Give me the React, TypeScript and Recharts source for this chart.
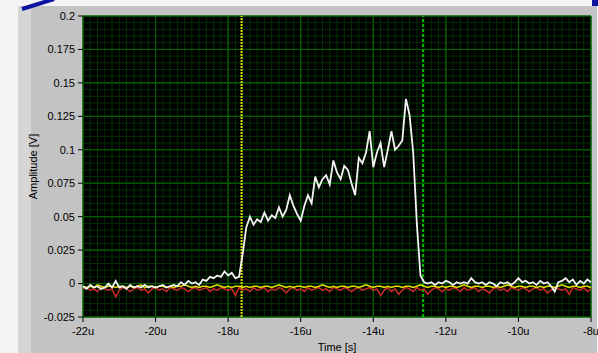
import { LineChart, Line, XAxis, YAxis, CartesianGrid, ReferenceLine } from 'recharts';

// sample grid of the acquisition (time in µs)
const T0 = -22;
const DT = 0.1;

const X_TICKS = [-22, -20, -18, -16, -14, -12, -10, -8];
const Y_TICKS = [-0.025, 0, 0.025, 0.05, 0.075, 0.1, 0.125, 0.15, 0.175, 0.2];

// channel 0 – detector signal
const WHITE = [
  -0.002, -0.004, -0.001, -0.003, -0.002, -0.004, -0.003, 0.0, -0.003, 0.002,
  -0.003, -0.002, -0.004, -0.001, -0.003, -0.002, -0.003, -0.001, -0.003, -0.002,
  -0.003, -0.002, -0.001, -0.003, -0.002, -0.001, -0.002, 0.001, -0.001, 0.002,
  0.0, 0.001, -0.001,
  0.003, 0.002, 0.005, 0.004, 0.006, 0.005, 0.009, 0.006, 0.008, 0.004, 0.005, 0.022, 0.042,
  0.05, 0.044, 0.048, 0.046, 0.053, 0.047, 0.051, 0.049, 0.057, 0.05,
  0.055, 0.066, 0.058, 0.052, 0.047, 0.058, 0.066, 0.06, 0.08, 0.072,
  0.078, 0.081, 0.074, 0.092, 0.083, 0.078, 0.088, 0.085, 0.075, 0.066,
  0.094, 0.09, 0.098, 0.114, 0.087, 0.098, 0.105, 0.087, 0.1, 0.114,
  0.1, 0.103, 0.107, 0.138, 0.126, 0.098, 0.045, 0.006, 0.001,
  0.0, 0.001, -0.001, 0.001, 0.0, 0.002, 0.001, -0.001, 0.001, 0.0,
  0.001, 0.0, 0.004, 0.001, 0.0, 0.001, -0.001, 0.001, 0.0, -0.002,
  0.001, 0.0, 0.001, -0.001, 0.001, 0.004, 0.001, 0.002, 0.0, 0.001,
  -0.001, 0.002, 0.0, 0.001, -0.002, -0.006, 0.001, 0.002, 0.004, 0.001,
  0.003, -0.001, 0.002, 0.0, 0.003, 0.001,
];

// channel 1 – reference
const RED = [
  -0.004, -0.003, -0.005, -0.004, -0.006, -0.003, -0.004, -0.005, -0.004, -0.01,
  -0.005, -0.003, -0.004, -0.006, -0.004, -0.003, -0.005, -0.004, -0.007, -0.004,
  -0.003, -0.005, -0.004, -0.006, -0.003, -0.004, -0.005, -0.003, -0.004, -0.006,
  -0.004, -0.003, -0.005, -0.004, -0.003, -0.006, -0.004, -0.005, -0.003, -0.004,
  -0.005, -0.004, -0.009, -0.003, -0.005, -0.004, -0.006, -0.003, -0.005, -0.004,
  -0.003, -0.006, -0.004, -0.005, -0.003, -0.004, -0.007, -0.004, -0.003, -0.005,
  -0.004, -0.006, -0.003, -0.005, -0.004, -0.003, -0.005, -0.004, -0.006, -0.003,
  -0.004, -0.005, -0.003, -0.004, -0.006, -0.004, -0.003, -0.005, -0.004, -0.003,
  -0.005, -0.004, -0.009, -0.005, -0.003, -0.006, -0.004, -0.008, -0.005, -0.003,
  -0.004, -0.006, -0.003, -0.005, -0.004, -0.008, -0.005, -0.003, -0.004, -0.006,
  -0.004, -0.005, -0.003, -0.004, -0.006, -0.003, -0.005, -0.004, -0.003, -0.006,
  -0.004, -0.005, -0.007, -0.004, -0.003, -0.005, -0.004, -0.006, -0.003, -0.004,
  -0.005, -0.003, -0.004, -0.006, -0.004, -0.003, -0.005, -0.004, -0.007, -0.005,
  -0.003, -0.004, -0.005, -0.004, -0.008, -0.003, -0.004, -0.005, -0.003, -0.006,
  -0.004,
];

// channel 2 – trigger baseline
const YELLOW = [
  -0.002, -0.003, -0.002, -0.003, -0.001, -0.002, -0.003, -0.002, -0.002, -0.003,
  -0.002, -0.002, -0.003, -0.002, -0.003, -0.002, -0.001, -0.003, -0.002, -0.002,
  -0.003, -0.002, -0.002, -0.003, -0.002, -0.003, -0.002, -0.002, -0.001, -0.002,
  -0.003, -0.002, -0.003, -0.002, -0.002, -0.003, -0.002, -0.001, -0.002, -0.003,
  -0.002, -0.003, -0.002, -0.002, -0.003, -0.002, -0.003, -0.002, -0.002, -0.003,
  -0.002, -0.002, -0.003, -0.002, -0.001, -0.002, -0.003, -0.002, -0.003, -0.002,
  -0.002, -0.003, -0.002, -0.002, -0.003, -0.002, -0.001, -0.002, -0.003, -0.002,
  -0.003, -0.002, -0.002, -0.003, -0.002, -0.002, -0.003, -0.002, -0.001, -0.002,
  -0.003, -0.002, -0.002, -0.003, -0.002, -0.003, -0.002, -0.002, -0.003, -0.002,
  -0.002, -0.003, -0.002, -0.001, -0.002, -0.003, -0.002, -0.002, -0.003, -0.002,
  -0.003, -0.002, -0.002, -0.003, -0.002, -0.001, -0.002, -0.003, -0.002, -0.002,
  -0.003, -0.002, -0.002, -0.003, -0.002, -0.003, -0.002, -0.001, -0.002, -0.003,
  -0.002, -0.002, -0.003, -0.002, -0.002, -0.003, -0.002, -0.003, -0.002, -0.002,
  -0.003, -0.002, -0.001, -0.002, -0.003, -0.002, -0.002, -0.003, -0.002, -0.002,
  -0.003,
];

const CURSOR_A = -17.63;
const CURSOR_B = -12.63;

const data = WHITE.map((w, i) => ({
  t: Math.round((T0 + i * DT) * 10) / 10,
  white: w,
  red: RED[i],
  yellow: YELLOW[i],
}));

// minor divisions: 10 per major x division, 5 per major y division
const minorX: number[] = [];
for (let i = 0; i <= 70; i++) if (i % 10 !== 0) minorX.push(Math.round((-22 + i * 0.2) * 10) / 10);
const minorY: number[] = [];
for (let i = 0; i <= 45; i++) if (i % 5 !== 0) minorY.push(Math.round((-0.025 + i * 0.005) * 1000) / 1000);

const FONT = '"Liberation Sans", Arial, sans-serif';
const tickStyle = { fontSize: 11, fill: '#000', fontFamily: FONT };
const MAJOR = '#006400';
const MINOR = '#042e04';

const fmtY = (v: number) => String(Number(v.toFixed(3)));
const fmtX = (v: number) => `${v}u`;

export default function App() {
  return (
    <div style={{ position: 'absolute', left: 0, top: 0, width: 598, height: 353, background: '#f4f4f4', overflow: 'hidden', fontFamily: FONT }}>
      {/* panel frame */}
      <div style={{ position: 'absolute', left: 18, top: 6, width: 13, height: 347, background: '#d6d6d6' }} />
      <div style={{ position: 'absolute', left: 31, top: 6, width: 566, height: 347, background: '#c3c3c3' }} />
      <svg width={598} height={353} style={{ position: 'absolute', left: 0, top: 0 }}>
        <line x1={22} y1={9} x2={54} y2={-1} stroke="#0a14a0" strokeWidth={4} />
        <rect x={592} y={0} width={6} height={6} fill="#0a14a0" />
      </svg>
      <div style={{ position: 'absolute', left: 0, top: 0 }}>
        <LineChart width={598} height={353} data={data} margin={{ top: 16, right: 7, bottom: 0, left: 0 }}>
          <CartesianGrid fill="#000" stroke={MAJOR} strokeOpacity={1} />
          {minorX.map(x => (
            <ReferenceLine key={`mx${x}`} x={x} stroke={MINOR} strokeWidth={1} />
          ))}
          {minorY.map(y => (
            <ReferenceLine key={`my${y}`} y={y} stroke={MINOR} strokeWidth={1} />
          ))}
          {X_TICKS.map(x => (
            <ReferenceLine key={`gx${x}`} x={x} stroke={MAJOR} strokeWidth={1} />
          ))}
          {Y_TICKS.map(y => (
            <ReferenceLine key={`gy${y}`} y={y} stroke={MAJOR} strokeWidth={1} />
          ))}
          <XAxis
            dataKey="t"
            type="number"
            domain={[-22, -8]}
            ticks={X_TICKS}
            tickFormatter={fmtX}
            tick={tickStyle}
            tickSize={5}
            tickMargin={5}
            tickLine={{ stroke: '#000' }}
            axisLine={false}
            height={36}
            interval={0}
            label={{ value: 'Time [s]', position: 'insideBottom', offset: 2, style: { fontSize: 11, fill: '#000', fontFamily: FONT } }}
          />
          <YAxis
            type="number"
            domain={[-0.025, 0.2]}
            ticks={Y_TICKS}
            tickFormatter={fmtY}
            tick={tickStyle}
            tickSize={5}
            tickMargin={3}
            tickLine={{ stroke: '#000' }}
            axisLine={false}
            width={83}
            interval={0}
            label={{ value: 'Amplitude [V]', angle: -90, position: 'insideLeft', offset: 33, style: { fontSize: 11, fill: '#000', fontFamily: FONT, textAnchor: 'middle' } }}
          />
          <ReferenceLine x={CURSOR_A} stroke="#e0e000" strokeWidth={2} strokeDasharray="2 1" />
          <ReferenceLine x={CURSOR_B} stroke="#00b400" strokeWidth={2} strokeDasharray="3 2" />
          <Line dataKey="red" stroke="#d02828" strokeWidth={1.5} dot={false} isAnimationActive={false} />
          <Line dataKey="yellow" stroke="#e0e000" strokeWidth={1.5} dot={false} isAnimationActive={false} />
          <Line dataKey="white" stroke="#f4f4f4" strokeWidth={1.8} dot={false} isAnimationActive={false} />
        </LineChart>
      </div>
    </div>
  );
}
